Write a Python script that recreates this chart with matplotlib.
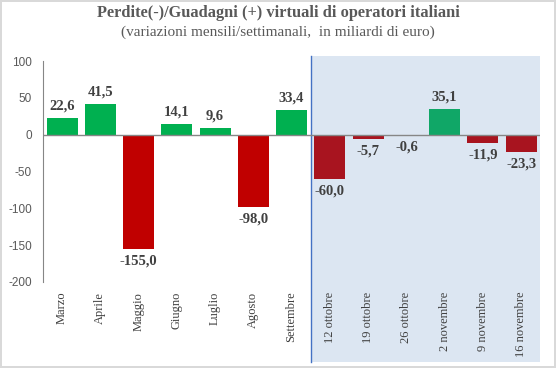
import matplotlib.pyplot as plt
from matplotlib.patches import Rectangle
import matplotlib.transforms as mtransforms

categorie = ["Marzo", "Aprile", "Maggio", "Giugno", "Luglio", "Agosto", "Settembre",
             "12 ottobre", "19 ottobre", "26 ottobre", "2 novembre", "9 novembre", "16 novembre"]
valori = [22.6, 41.5, -155.0, 14.1, 9.6, -98.0, 33.4,
          -60.0, -5.7, -0.6, 35.1, -11.9, -23.3]
n_mensili = 7  # i primi 7 sono mensili, poi settimanali

verde1, rosso1 = "#00B050", "#C00000"
verde2, rosso2 = "#10A767", "#A8141F"

fig = plt.figure(figsize=(5.56, 3.68), dpi=100)
fig.patch.set_edgecolor("#D9D9D9")
fig.patch.set_linewidth(1.5)
ax = fig.add_axes([0.0773, 0.2337, 0.8944, 0.6005])

x = list(range(len(valori)))
colori = []
for i, v in enumerate(valori):
    if i < n_mensili:
        colori.append(verde1 if v >= 0 else rosso1)
    else:
        colori.append(verde2 if v >= 0 else rosso2)

# fondo azzurro per il periodo settimanale
trans = mtransforms.blended_transform_factory(ax.transData, ax.transAxes)
ax.add_patch(Rectangle((n_mensili - 0.5, -0.362), len(valori) - n_mensili, 1.385,
                       transform=trans, facecolor="#DCE6F2", edgecolor="none",
                       clip_on=False, zorder=0))
ax.plot([n_mensili - 0.5, n_mensili - 0.5], [-0.362, 1.023], transform=trans,
        color="#4472C4", lw=1, clip_on=False, zorder=1)

ax.bar(x, valori, width=0.81, color=colori, zorder=2)
ax.axhline(0, color="#868686", lw=1, zorder=3)

for xi, v in zip(x, valori):
    testo = f"{v:.1f}".replace(".", ",")
    if v >= 0:
        ax.annotate(testo, (xi, v), xytext=(0, 4), textcoords="offset points",
                    ha="center", va="bottom", fontsize=10.5, fontweight="bold",
                    family="Liberation Serif", color="#404040")
    else:
        ax.annotate(testo, (xi, v), xytext=(0, -4), textcoords="offset points",
                    ha="center", va="top", fontsize=10.5, fontweight="bold",
                    family="Liberation Serif", color="#404040")

ax.set_xlim(-0.5, len(valori) - 0.5)
ax.set_ylim(-200, 100)
ax.set_yticks([100, 50, 0, -50, -100, -150, -200])
ax.set_yticklabels(["100", "50", "0", "-50", "-100", "-150", "-200"],
                   family="Liberation Sans", fontsize=8.5, color="#595959")
ax.set_xticks(x)
ax.set_xticklabels(categorie, rotation=90, family="Liberation Serif",
                   fontsize=9, color="#404040")
ax.tick_params(axis="both", length=0)
ax.tick_params(axis="x", pad=7)
ax.tick_params(axis="y", pad=8)

for s in ["top", "right", "bottom"]:
    ax.spines[s].set_visible(False)
ax.spines["left"].set_color("#868686")
ax.patch.set_visible(False)

fig.text(0.5, 0.965, "Perdite(-)/Guadagni (+) virtuali di operatori italiani",
         ha="center", va="center", family="Liberation Serif", fontweight="bold",
         fontsize=11.8, color="#595959")
fig.text(0.5, 0.912, "(variazioni mensili/settimanali,  in miliardi di euro)",
         ha="center", va="center", family="Liberation Serif",
         fontsize=11, color="#595959")

fig.savefig("out.png", dpi=100, edgecolor=fig.get_edgecolor())
